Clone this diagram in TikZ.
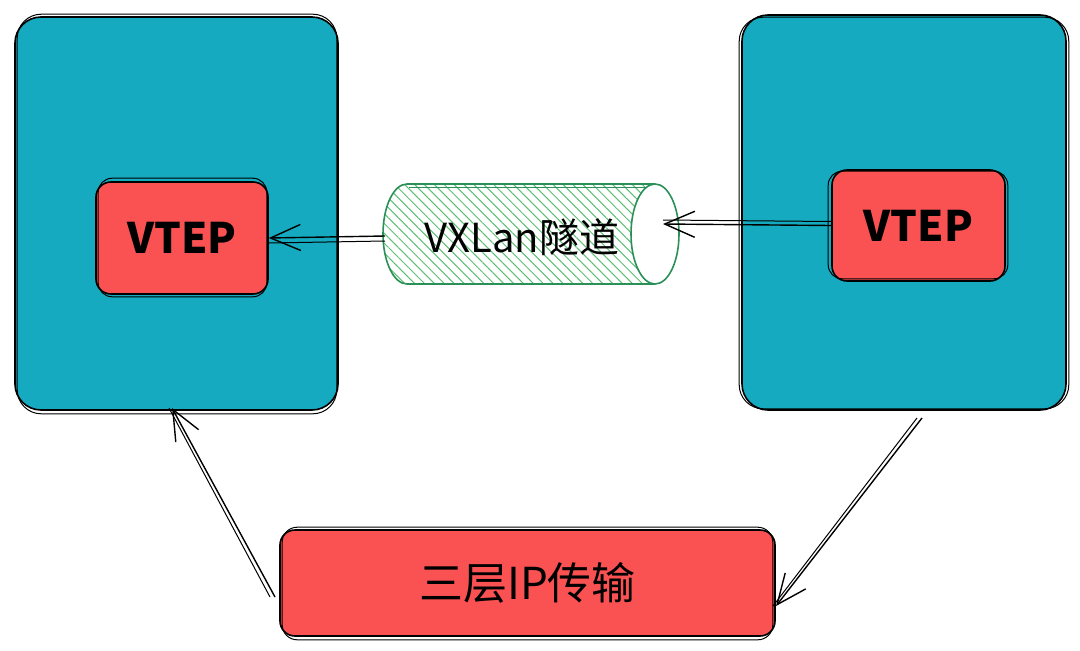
\documentclass[tikz,border=0pt]{standalone}
\usepackage{fontspec}
\setmainfont{Noto Sans CJK SC}
\usetikzlibrary{arrows.meta,patterns.meta,calc}
\definecolor{boxteal}{HTML}{15AABF}
\definecolor{boxred}{HTML}{FA5252}
\definecolor{tubeline}{HTML}{2B9058}
\definecolor{hatch}{HTML}{5CBF74}
\begin{document}
\begin{tikzpicture}[x=1pt,y=-1pt,
  bigbox/.style={fill=boxteal, draw=black, line width=1.6pt, rounded corners=26pt, inner sep=0pt},
  redbox/.style={fill=boxred, draw=black, line width=1.6pt, rounded corners=15pt, inner sep=0pt},
  sk/.style={draw=black, line width=1pt},
  lbl/.style={font=\fontsize{42}{46}\selectfont\bfseries},
  cjklbl/.style={font=\fontsize{40}{44}\selectfont},
  arr/.style={draw=black, line width=1.4pt, -{Straight Barb[length=30pt,width=26pt,line width=1.4pt]}},
  arr2/.style={draw=black, line width=1pt}]
\useasboundingbox (0,0) rectangle (1080,651);

% big boxes
\node[bigbox, minimum width=323pt, minimum height=393pt] (L) at (176.5,213.5) {};
\draw[sk, rounded corners=24pt] ($(L.north west)+(3,-2)$) rectangle ($(L.south east)+(-2,3)$);
\node[bigbox, minimum width=324pt, minimum height=395pt] (R) at (904,212.5) {};
\draw[sk, rounded corners=24pt] ($(R.north west)+(-2,3)$) rectangle ($(R.south east)+(2,-2)$);

% VTEP boxes
\node[redbox, lbl, minimum width=172pt, minimum height=112pt] (LV) at (182,238) {VTEP};
\draw[sk, rounded corners=14pt] ($(LV.north west)+(3,-3)$) rectangle ($(LV.south east)+(-2,2)$);
\node[redbox, lbl, minimum width=173pt, minimum height=111pt] (RV) at (918.5,225.5) {VTEP};
\draw[sk, rounded corners=14pt] ($(RV.north west)+(-3,2)$) rectangle ($(RV.south east)+(2,-3)$);

% bottom box
\node[redbox, font=\fontsize{44}{48}\selectfont, minimum width=495pt, minimum height=106pt] (B) at (527.5,583) {三层IP传输};
\draw[sk, rounded corners=15pt] ($(B.north west)+(3,-2)$) rectangle ($(B.south east)+(-3,3)$);

% tunnel (cylinder)
\path[pattern={Lines[angle=-45,distance=7pt,line width=1pt]}, pattern color=hatch]
  (407,184) -- (655,184) arc[start angle=90, end angle=-90, x radius=24pt, y radius=50pt]
  -- (407,284) arc[start angle=-90, end angle=-270, x radius=24pt, y radius=50pt] -- cycle;
\draw[draw=tubeline, line width=1.6pt]
  (655,184) -- (407,184) arc[start angle=90, end angle=270, x radius=24pt, y radius=50pt] -- (655,284);
\draw[draw=tubeline, line width=1pt]
  (653,187) -- (409,187);
\draw[draw=tubeline, line width=1.6pt, fill=white] (655,234) ellipse[x radius=24pt, y radius=50pt];
\node[cjklbl] (T) at (522,237) {VXLan隧道};
\coordinate (tunR) at (663,224);
\coordinate (tunL) at (385,236);

% arrows
\coordinate (rb) at (922,418);
\coordinate (be) at (776,606);
\coordinate (bw) at (275,597);
\coordinate (lb) at (172,408);

\draw[arr] (RV.west) -- (tunR);
\draw[arr2] ([yshift=4pt]RV.west) -- ([yshift=4pt]tunR);
\draw[arr] (tunL) -- (LV.east);
\draw[arr2] ([yshift=-5pt]tunL) -- ([yshift=-5pt]LV.east);
\draw[arr] (rb) -- (be);
\draw[arr2] ([xshift=-5pt]rb) -- ([xshift=-3pt]be);
\draw[arr] (bw) -- (lb);
\draw[arr2] ([xshift=-5pt]bw) -- ([xshift=-3pt]lb);
\end{tikzpicture}
\end{document}
